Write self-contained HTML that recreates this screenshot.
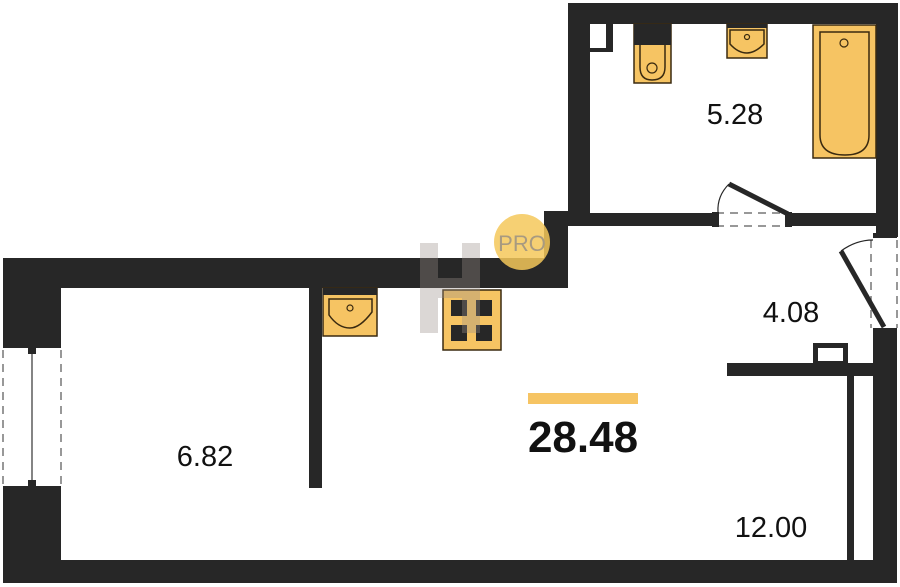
<!DOCTYPE html>
<html><head><meta charset="utf-8"><style>
html,body{margin:0;padding:0;background:#fff;}
svg{display:block;}
text{font-family:"Liberation Sans",sans-serif;fill:#111;}
</style></head><body>
<svg width="900" height="587" viewBox="0 0 900 587" xmlns="http://www.w3.org/2000/svg">
<g fill="#272727">
<!-- bathroom walls -->
<rect x="568" y="3" width="330" height="21"/>
<rect x="568" y="3" width="22" height="223"/>
<rect x="876" y="3" width="22" height="234"/>
<rect x="568" y="213" width="145" height="13"/>
<rect x="790" y="213" width="108" height="13"/>
<!-- step -->
<rect x="544" y="211" width="24" height="77"/>
<!-- main top wall -->
<rect x="3" y="258" width="561" height="30"/>
<!-- left wall -->
<rect x="3" y="258" width="58" height="88"/>
<rect x="3" y="488" width="58" height="95"/>
<!-- bottom -->
<rect x="3" y="560" width="894" height="23"/>
<!-- right wall -->
<rect x="873" y="330" width="24" height="253"/>
<!-- partition -->
<rect x="309" y="288" width="13" height="200"/>
<!-- inner bar -->
<rect x="727" y="363" width="146" height="13"/>
<rect x="847" y="376" width="7" height="184"/>
</g>
<rect x="815.5" y="345.5" width="30" height="18" fill="#fff" stroke="#272727" stroke-width="5"/>
<!-- bathroom small square -->
<rect x="590" y="24" width="23" height="28" fill="#272727"/>
<rect x="590" y="24" width="16" height="24" fill="#fff"/>
<!-- left window -->
<g stroke="#777" stroke-width="1.5" stroke-dasharray="8,6" fill="none">
<line x1="3" y1="350" x2="3" y2="486"/><line x1="61" y1="350" x2="61" y2="486"/>
<line x1="871" y1="240" x2="871" y2="328"/><line x1="897" y1="240" x2="897" y2="328"/>
<line x1="716" y1="213" x2="788" y2="213"/><line x1="716" y1="226" x2="788" y2="226"/>
</g>
<rect x="3" y="344" width="58" height="4" fill="#272727"/>
<rect x="3" y="486" width="58" height="4" fill="#272727"/>
<rect x="28" y="348" width="8" height="6" fill="#272727"/>
<rect x="28" y="480" width="8" height="6" fill="#272727"/>
<line x1="32" y1="354" x2="32" y2="480" stroke="#333" stroke-width="1.2"/>
<!-- bathroom door -->
<rect x="712" y="212" width="7" height="15" fill="#272727"/>
<rect x="785" y="212" width="7" height="15" fill="#272727"/>
<line x1="729" y1="184" x2="788" y2="214" stroke="#272727" stroke-width="5"/>
<path d="M729,184 Q717,196 718,212" fill="none" stroke="#272727" stroke-width="1.2"/>
<!-- right door -->
<rect x="873" y="233" width="24" height="5" fill="#272727"/>
<rect x="873" y="328" width="24" height="5" fill="#272727"/>
<line x1="841" y1="251" x2="884" y2="327" stroke="#272727" stroke-width="5"/>
<path d="M841,251 Q856,240 873,240" fill="none" stroke="#272727" stroke-width="1.2"/>
<!-- fixtures -->
<g stroke="#3a2a10" stroke-width="1.5">
<rect x="323" y="288" width="54" height="48" fill="#f6c463"/>
<rect x="634" y="24" width="37" height="59" fill="#f6c463"/>
<rect x="727" y="24" width="40" height="34" fill="#f6c463"/>
<rect x="813" y="25" width="63" height="133" fill="#f6c463"/>
<rect x="443" y="290" width="58" height="60" fill="#f6c463"/>
</g>
<rect x="323" y="288" width="54" height="7" fill="#272727"/>
<path d="M329,299 H372 V312 Q360,328 350,328 Q338,328 329,315 Z" fill="none" stroke="#3a2a10" stroke-width="1.5"/>
<circle cx="350" cy="308" r="3" fill="none" stroke="#3a2a10" stroke-width="1.2"/>
<rect x="634" y="24" width="37" height="21" fill="#272727"/>
<path d="M640,45 V67 Q640,80 652,80 Q665,80 665,67 V45" fill="none" stroke="#3a2a10" stroke-width="1.5"/>
<circle cx="652" cy="68" r="5" fill="none" stroke="#3a2a10" stroke-width="1.2"/>
<rect x="727" y="24" width="40" height="4" fill="#272727"/>
<path d="M730,30 H764 V44 Q755,53 747,53 Q738,53 730,44 Z" fill="none" stroke="#3a2a10" stroke-width="1.5"/>
<circle cx="747" cy="37" r="2.5" fill="none" stroke="#3a2a10" stroke-width="1.2"/>
<path d="M820,32 H869 V135 Q869,155 845,155 Q820,155 820,135 Z" fill="none" stroke="#3a2a10" stroke-width="1.5"/>
<circle cx="844" cy="43" r="4" fill="none" stroke="#3a2a10" stroke-width="1.2"/>
<g fill="#272727">
<rect x="451" y="300" width="16" height="16"/><rect x="476" y="300" width="16" height="16"/>
<rect x="451" y="325" width="16" height="16"/><rect x="476" y="325" width="16" height="16"/>
</g>
<!-- watermark -->
<g opacity="0.35" fill="#9a9088">
<rect x="420" y="243" width="18" height="90"/><rect x="462" y="243" width="18" height="90"/>
<rect x="420" y="278" width="60" height="20"/>
</g>
<circle cx="522" cy="242" r="28" fill="#f5c85a" opacity="0.85"/>
<text x="522" y="251" font-size="22" text-anchor="middle" style="fill:#a89a80">PRO</text>
<!-- total -->
<rect x="528" y="393" width="110" height="11" fill="#f6c463"/>
<text x="583" y="452" font-size="44" font-weight="bold" text-anchor="middle">28.48</text>
<text x="735" y="124" font-size="29" text-anchor="middle">5.28</text>
<text x="791" y="322" font-size="29" text-anchor="middle">4.08</text>
<text x="205" y="466" font-size="29" text-anchor="middle">6.82</text>
<text x="771" y="537" font-size="29" text-anchor="middle">12.00</text>
</svg>
</body></html>
